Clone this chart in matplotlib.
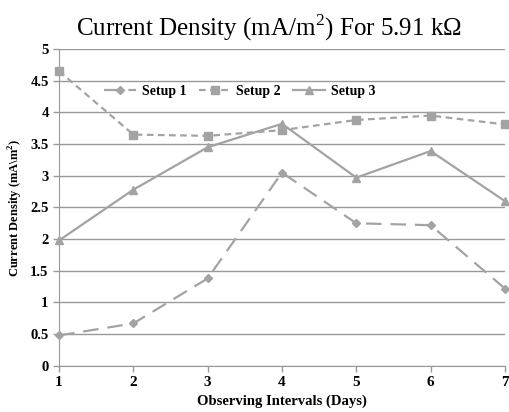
import matplotlib
matplotlib.use("Agg")
import matplotlib.pyplot as plt

days = [1, 2, 3, 4, 5, 6, 7]
setup1 = [0.48, 0.67, 1.38, 3.05, 2.25, 2.22, 1.22]
setup2 = [4.65, 3.65, 3.63, 3.72, 3.88, 3.95, 3.81]
setup3 = [1.98, 2.78, 3.45, 3.82, 2.97, 3.39, 2.60]
yticks = [0, 0.5, 1, 1.5, 2, 2.5, 3, 3.5, 4, 4.5, 5]
ytick_labels = ["0", "0.5", "1", "1.5", "2", "2.5", "3", "3.5", "4", "4.5", "5"]

plt.rcParams["font.family"] = ["Liberation Serif", "DejaVu Serif"]
plt.rcParams["mathtext.fontset"] = "custom"
plt.rcParams["mathtext.rm"] = "Liberation Serif"
plt.rcParams["mathtext.bf"] = "Liberation Serif:bold"

gray = "#a3a3a3"
fig = plt.figure(figsize=(5.09, 4.12), dpi=100)
ax = fig.add_axes([0.116, 0.112, 0.876, 0.769])

ax.plot(days, setup1, color=gray, lw=1.6, ls=(0, (7, 4)), marker="D", ms=4,
        label="Setup 1", clip_on=False, zorder=3)
ax.plot(days, setup2, color=gray, lw=1.6, ls=(0, (3, 2)), marker="s", ms=5.5,
        label="Setup 2", clip_on=False, zorder=3)
ax.plot(days, setup3, color=gray, lw=1.6, ls="-", marker="^", ms=6,
        label="Setup 3", clip_on=False, zorder=3)

ax.set_xlim(1, 7)
ax.set_ylim(0, 5)
ax.set_xticks(days)
ax.set_xticklabels([str(d) for d in days], fontweight="bold", fontsize=11)
ax.set_yticks(yticks)
ax.set_yticklabels(ytick_labels, fontweight="bold", fontsize=10.5)
ax.yaxis.grid(True, color="#999999", lw=1)
ax.set_axisbelow(True)
for s in ["top", "right"]:
    ax.spines[s].set_visible(False)
for s in ["left", "bottom"]:
    ax.spines[s].set_color("#999999")
ax.tick_params(axis="both", colors="#999999", length=4, width=1, labelcolor="black")

ax.set_title("Current Density (mA/m$^{\\mathrm{2}}$) For 5.91 k\u03a9", fontsize=18, pad=10,
             x=0.47)
ax.set_xlabel("Observing Intervals (Days)", fontweight="bold", fontsize=10.5, labelpad=4)
ax.set_ylabel("Current Density (mA\\m$^{\\mathbf{2}}$)", fontweight="bold", fontsize=9, labelpad=4)

ax.legend(loc="center", bbox_to_anchor=(0.405, 0.865), ncol=3, frameon=False,
          prop={"weight": "bold", "size": 10}, handlelength=2.3, columnspacing=0.9,
          handletextpad=0.4)

fig.savefig("out.png", dpi=100)
